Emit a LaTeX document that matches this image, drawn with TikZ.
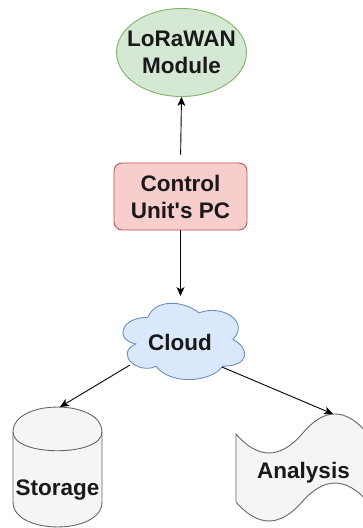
\documentclass[tikz,border=0pt]{standalone}
\usepackage{fontspec}
\setmainfont{Liberation Sans}
\usetikzlibrary{shapes.geometric,arrows.meta}
\definecolor{greenF}{HTML}{D5E8D4}
\definecolor{greenS}{HTML}{82B366}
\definecolor{redF}{HTML}{F8CECC}
\definecolor{redS}{HTML}{B85450}
\definecolor{blueF}{HTML}{DAE8FC}
\definecolor{blueS}{HTML}{6C8EBF}
\definecolor{greyF}{HTML}{F5F5F5}
\definecolor{greyS}{HTML}{666666}
\tikzset{
  lbl/.style={font=\bfseries\fontsize{22.5}{27}\selectfont, text=black!90, align=center},
  shp/.style={line width=0.9pt},
  arr/.style={line width=0.9pt, -{Stealth[length=9pt,width=8pt,inset=2.5pt]}},
}
\begin{document}
\begin{tikzpicture}[x=1pt,y=-1pt]
\useasboundingbox (0,0) rectangle (363,528);
\clip (0,0) rectangle (363,528);
% LoRaWAN module
\node[lbl, shp, ellipse, draw=greenS, fill=greenF, minimum width=130pt, minimum height=88pt, inner sep=-14pt] (lora) at (181.5,52.5) {LoRaWAN\\Module};
% Control unit
\node[lbl, shp, rectangle, rounded corners=8pt, draw=redS, fill=redF, minimum width=133pt, minimum height=67pt, inner sep=0pt] (ctrl) at (180.5,196.5) {Control\\Unit\textquotesingle s PC};
% Cloud
\begin{scope}[shift={(114,295)}, x=136pt, y=-89pt]
\draw[shp, draw=blueS, fill=blueF] (0.25,0.25) .. controls (0.05,0.25) and (0,0.5) .. (0.16,0.55)
 .. controls (0,0.66) and (0.18,0.9) .. (0.31,0.8)
 .. controls (0.4,1) and (0.7,1) .. (0.8,0.8)
 .. controls (1,0.8) and (1,0.6) .. (0.875,0.5)
 .. controls (1,0.3) and (0.8,0.1) .. (0.625,0.2)
 .. controls (0.5,0.05) and (0.3,0.05) .. (0.25,0.25) -- cycle;
\end{scope}
\node[lbl, inner sep=0pt] (cloud) at (180,342.5) {Cloud};
\coordinate (cloudtop) at (180.5,304);
\coordinate (cloudL) at (130,365);
\coordinate (cloudR) at (222,367);
% Storage cylinder
\draw[shp, draw=greyS, fill=greyF] (13,432) .. controls (13,398.7) and (102,398.7) .. (102,432)
 -- (102,502) .. controls (102,535.3) and (13,535.3) .. (13,502) -- cycle;
\draw[shp, draw=greyS] (13,432) .. controls (13,457) and (102,457) .. (102,432);
\node[lbl, inner sep=0pt, anchor=base] (storage) at (57.5,495) {Storage};
\coordinate (stortop) at (60,407);
% Analysis tape
\draw[shp, draw=greyS, fill=greyF] (236,434)
 .. controls (258,459.3) and (280,459.3) .. (302,434)
 .. controls (324,407.3) and (346,407.3) .. (368,434)
 -- (368,502)
 .. controls (346,476.7) and (324,476.7) .. (302,502)
 .. controls (280,527.3) and (258,527.3) .. (236,502) -- cycle;
\node[lbl, inner sep=0pt, anchor=base] (analysis) at (303.5,478) {Analysis};
\coordinate (anatop) at (333,414);
% connectors
\draw[arr, shorten <=8pt] (ctrl.north) -- (lora.south);
\draw[arr] (ctrl.south) -- ([yshift=8pt]cloudtop);
\draw[arr] (cloudL) -- (stortop);
\draw[arr] (cloudR) -- (anatop);
\end{tikzpicture}
\end{document}
